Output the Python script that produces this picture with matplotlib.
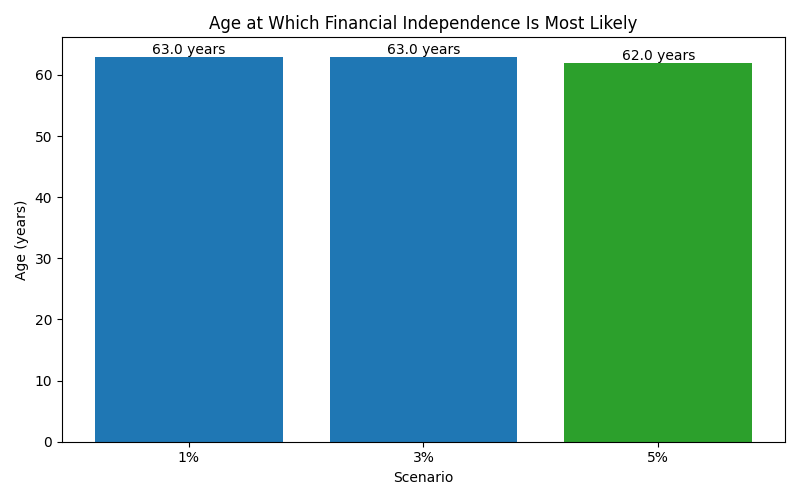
import matplotlib
matplotlib.use("Agg")
import matplotlib.pyplot as plt

scenarios = ["1%", "3%", "5%"]
ages = [63.0, 63.0, 62.0]
colors = ["#1f77b4", "#1f77b4", "#2ca02c"]

fig, ax = plt.subplots(figsize=(8, 5), dpi=100)
bars = ax.bar(scenarios, ages, color=colors)
for b, v in zip(bars, ages):
    ax.text(b.get_x() + b.get_width() / 2, v, f"{v:.1f} years", ha="center", va="bottom")
ax.set_title("Age at Which Financial Independence Is Most Likely")
ax.set_xlabel("Scenario")
ax.set_ylabel("Age (years)")
fig.tight_layout()
fig.savefig("out.png")
